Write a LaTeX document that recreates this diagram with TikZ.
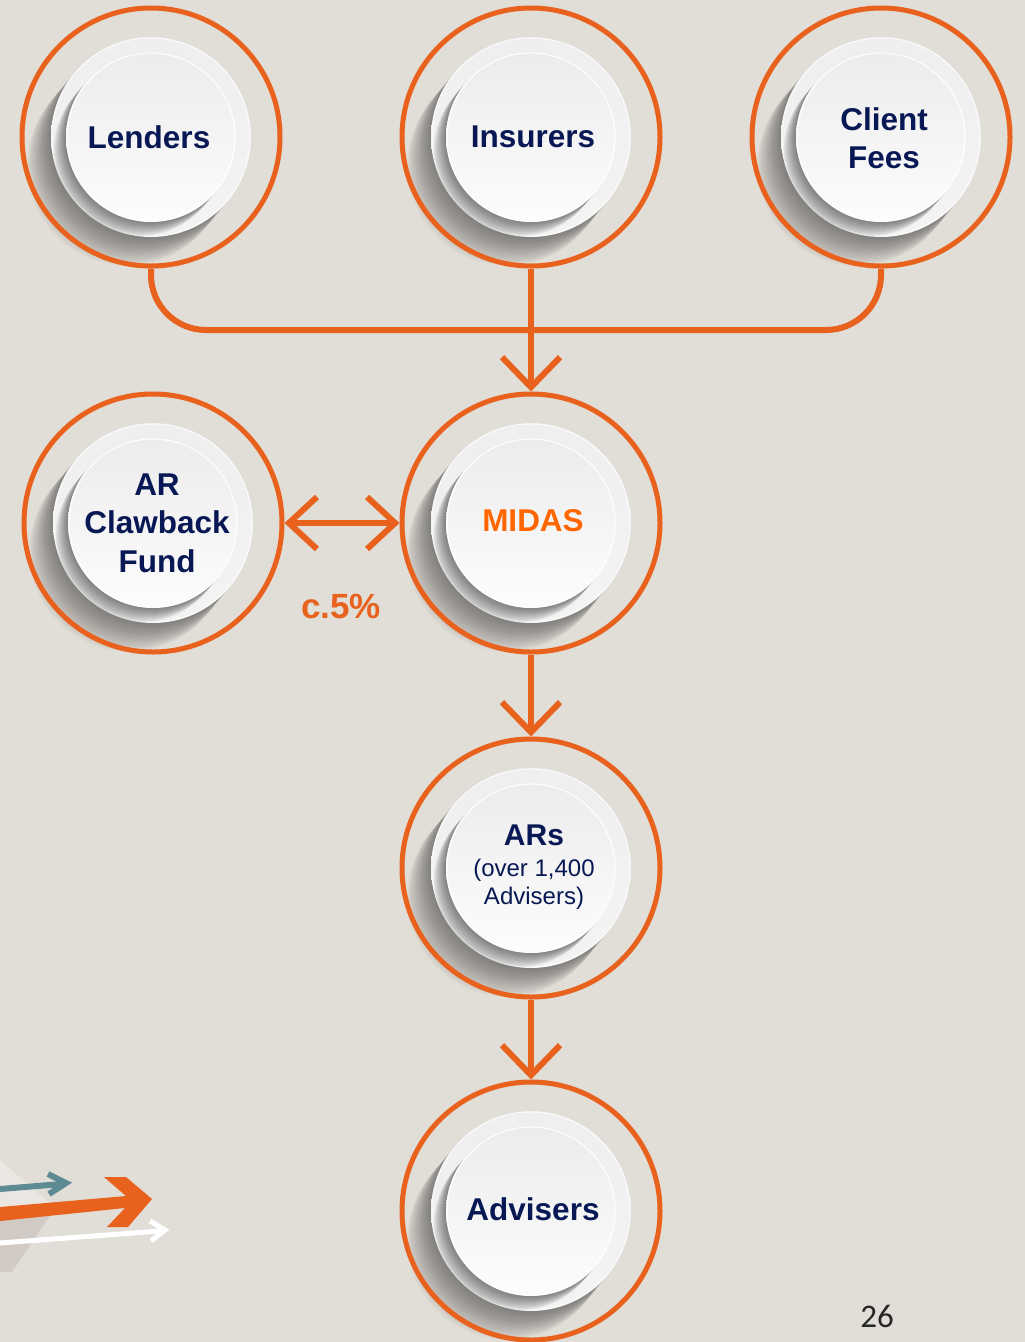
\documentclass[tikz,border=0pt]{standalone}
\usepackage{fontspec}
\setmainfont{Liberation Sans}
\newfontfamily\pagefont{Carlito}
\usetikzlibrary{arrows.meta}
\definecolor{bg}{RGB}{225,221,215}
\definecolor{org}{RGB}{232,98,30}
\definecolor{midasorg}{RGB}{255,102,0}
\definecolor{navy}{RGB}{8,24,84}
\definecolor{tealc}{RGB}{94,138,147}
\definecolor{decodark}{RGB}{190,180,176}
\begin{document}
\begin{tikzpicture}[x=1pt,y=-1pt,
  ring/.style={circle, draw=org, line width=5pt, minimum size=258pt, inner sep=0pt},
  lbl/.style={text=navy, font=\bfseries\fontsize{31.5}{38.5}\selectfont, align=center},
  conn/.style={draw=org, line width=6pt},
  barb/.style={-{Straight Barb[length=30pt,width=58pt]}},
  dbarb/.style={{Straight Barb[length=28pt,width=52pt]}-{Straight Barb[length=28pt,width=52pt]}},
  plate/.pic={
    \foreach \i in {1,...,24}{\fill[black,opacity=0.02] ({-1.0*\i},{1.2*\i}) circle (100pt);}
    \shade[top color=gray!13!white, bottom color=gray!9!white] (0,0) circle (100pt);
    \draw[white, line width=1pt, opacity=0.7] (0,0) circle (99pt);
    \begin{scope}
      \clip (0,0) circle (100pt);
      \foreach \i in {1,...,14}{\fill[black,opacity=0.038] ({-0.9*\i},{1.05*\i}) circle (85pt);}
    \end{scope}
    \shade[top color=gray!15!white, bottom color=gray!2!white] (0,0) circle (85pt);
    \draw[white, line width=1.2pt, opacity=0.9] (0,0) circle (84pt);
  }
]
\useasboundingbox (0,0) rectangle (1025,1342);
\clip (0,0) rectangle (1025,1342);
\fill[bg] (0,0) rectangle (1025,1342);

% decoration bottom-left
\fill[white, opacity=0.3] (0,1160) -- (55,1208) -- (0,1208) -- cycle;
\fill[decodark, opacity=0.45] (0,1208) -- (55,1208) -- (12,1272) -- (0,1272) -- cycle;
\draw[tealc, line width=6pt] (0,1189) -- (62,1184);
\draw[tealc, line width=6pt, miter limit=10] (48,1174) -- (66,1183) -- (49,1194);
\fill[org] (0,1207) -- (126,1196) -- (104,1177) -- (126,1177) -- (152,1199) -- (128,1227) -- (107,1227) -- (125,1208) -- (0,1221) -- cycle;
\draw[white, line width=5pt] (0,1243) -- (160,1231);
\draw[white, line width=5pt, miter limit=10] (150,1221) -- (165,1230) -- (151,1241);

% plates
\foreach \cx/\cy in {151/137, 531/137, 881/137, 153/523, 531/523, 531/868, 531/1211}
  \pic at (\cx,\cy) {plate};

% rings
\node[ring] (lenders) at (151,137) {};
\node[ring] (insurers) at (531,137) {};
\node[ring] (fees) at (881,137) {};
\node[ring] (clawback) at (153,523) {};
\node[ring] (midas) at (531,523) {};
\node[ring] (ars) at (531,868) {};
\node[ring] (advisers) at (531,1211) {};

% labels
\node[lbl] (lenders-t) at (149,137) {Lenders};
\node[lbl] (insurers-t) at (533,137) {Insurers};
\node[lbl] (fees-t) at (884,138) {Client\\Fees};
\node[lbl] (clawback-t) at (157,523) {AR\\Clawback\\Fund};
\node[lbl, text=midasorg] (midas-t) at (533,521) {MIDAS};
\node[text=navy, font=\bfseries\fontsize{30}{34}\selectfont, anchor=base] (ars-t1) at (534,845) {ARs};
\node[text=navy, font=\fontsize{24}{28}\selectfont, anchor=base] (ars-t2) at (534,876.5) {(over 1,400};
\node[text=navy, font=\fontsize{24}{28}\selectfont, anchor=base] (ars-t3) at (534,904.5) {Advisers)};
\node[lbl] (advisers-t) at (533,1209) {Advisers};
\node[text=org, font=\bfseries\fontsize{35}{40}\selectfont] (pct) at (341,606) {c.5\%};
\node[text=black!85, font=\pagefont\fontsize{33}{36}\selectfont] (page) at (877,1316) {26};

% connectors
\draw[conn, rounded corners=55pt] (lenders.south) -- (151,330) -| (fees.south);
\draw[conn, barb] (insurers.south) -- (midas.north);
\draw[conn, dbarb] (clawback.east) -- (midas.west);
\draw[conn, barb] (midas.south) -- (ars.north);
\draw[conn, barb] (ars.south) -- (advisers.north);
\end{tikzpicture}
\end{document}
